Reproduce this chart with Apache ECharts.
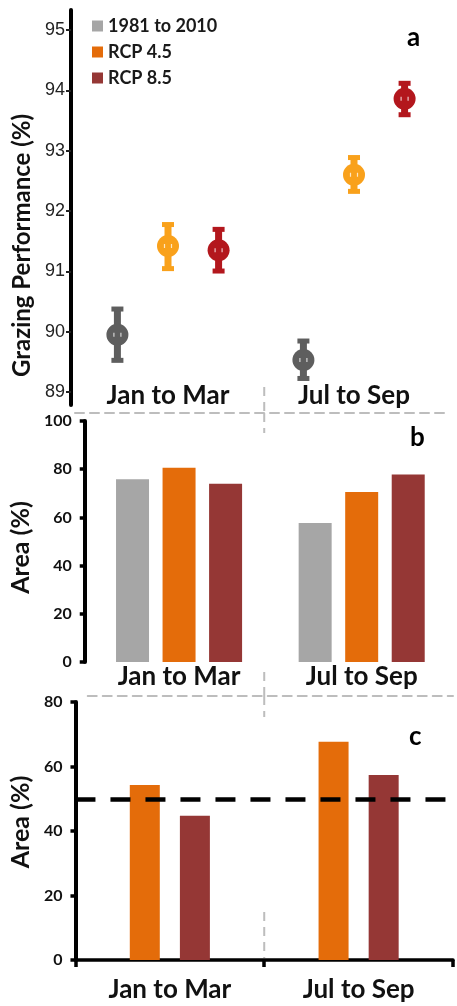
<!DOCTYPE html>
<html><head><meta charset="utf-8">
<script src="https://cdn.jsdelivr.net/npm/echarts@6/dist/echarts.min.js"></script>
<style>html,body{margin:0;padding:0;background:#fff}#c{width:457px;height:1006px}</style>
</head><body><div id="c"></div>
<script>
// ---------- data ----------
const categories = ['Jan to Mar', 'Jul to Sep'];
const seriesNames = ['1981 to 2010', 'RCP 4.5', 'RCP 8.5'];
// panel a: grazing performance (%) mean with error range
const perfMeanBase = [89.95, 89.53];
const perfLowBase  = [89.50, 89.20];
const perfHighBase = [90.40, 89.87];
const perfMean45 = [91.42, 92.60];
const perfLow45  = [91.02, 92.30];
const perfHigh45 = [91.80, 92.91];
const perfMean85 = [91.35, 93.86];
const perfLow85  = [90.98, 93.57];
const perfHigh85 = [91.72, 94.14];
const perfTicks = [89, 90, 91, 92, 93, 94, 95];
// panel b: area (%)
const areaBBase = [75.8, 57.7];
const areaB45   = [80.6, 70.5];
const areaB85   = [74.0, 77.8];
// panel c: area (%)
const areaC45 = [54.3, 67.7];
const areaC85 = [44.7, 57.4];
const threshold = 50;

// ---------- styles ----------
const FONT = 'Lato';
const pointColors = ['#5e5e5e', '#f9a11b', '#b3171d'];
const barColors = ['#a6a6a6', '#e46c0a', '#953735'];

function pack(m, lo, hi) { return m.map((v, i) => [i, v, lo[i], hi[i]]); }
const perfData = [pack(perfMeanBase, perfLowBase, perfHighBase), pack(perfMean45, perfLow45, perfHigh45), pack(perfMean85, perfLow85, perfHigh85)];

function makeRender(k, color) {
  return function (params, api) {
    const cat = api.value(0);
    const c = api.coord([cat, api.value(1)]);
    const lo = api.coord([cat, api.value(2)]);
    const hi = api.coord([cat, api.value(3)]);
    const band = api.size([1, 0])[0];
    const x = c[0] + k * band * 0.272;
    const st = { fill: color };
    return { type: 'group', children: [
      { type: 'rect', shape: { x: x - 3.5, y: hi[1], width: 7, height: lo[1] - hi[1] }, style: st },
      { type: 'rect', shape: { x: x - 6, y: hi[1] - 1, width: 12, height: 5 }, style: st },
      { type: 'rect', shape: { x: x - 6, y: lo[1] - 4, width: 12, height: 5 }, style: st },
      { type: 'circle', shape: { cx: x, cy: c[1], r: 11 }, style: st },
      { type: 'line', shape: { x1: x - 3.5, y1: c[1] - 2, x2: x - 3.5, y2: c[1] + 2 }, style: { stroke: 'rgba(255,255,255,0.75)', lineWidth: 1.2 } },
      { type: 'line', shape: { x1: x + 3.5, y1: c[1] - 2, x2: x + 3.5, y2: c[1] + 2 }, style: { stroke: 'rgba(255,255,255,0.75)', lineWidth: 1.2 } }
    ]};
  };
}

const catLabel = { fontFamily: FONT, fontWeight: 'bold', fontSize: 26, color: '#111' };
const axisName = { fontFamily: FONT, fontWeight: 'bold', fontSize: 24, color: '#111' };
const dashedGray = { color: '#bdbdbd', width: 2, type: [9, 6] };

const chart = echarts.init(document.getElementById('c'), null, { renderer: 'canvas' });
const option = {
  animation: false,
  backgroundColor: '#fff',
  title: [
    { text: 'a', left: 402, top: 20, textStyle: { fontFamily: FONT, fontWeight: 'bold', fontSize: 26, color: '#000' } },
    { text: 'b', left: 405, top: 420, textStyle: { fontFamily: FONT, fontWeight: 'bold', fontSize: 26, color: '#000' } },
    { text: 'c', left: 404, top: 719, textStyle: { fontFamily: FONT, fontWeight: 'bold', fontSize: 26, color: '#000' } }
  ],
  legend: {
    orient: 'vertical', left: 87, top: 12, itemWidth: 11, itemHeight: 11, itemGap: 8,
    selectedMode: false, icon: 'rect',
    textStyle: { fontFamily: FONT, fontWeight: 'bold', fontSize: 18, color: '#1a1a1a' },
    data: seriesNames.map((n, i) => ({ name: n, itemStyle: { color: barColors[i] } }))
  },
  grid: [
    { left: 75, right: 10, top: 10, bottom: 601 },
    { left: 75, right: 4, top: 421, bottom: 344 },
    { left: 73, right: 4, top: 702, bottom: 46 }
  ],
  xAxis: [
    { gridIndex: 0, type: 'category', data: categories, position: 'bottom', offset: 8,
      axisLine: { lineStyle: dashedGray }, axisTick: { show: false },
      axisLabel: { inside: true, margin: 4, ...catLabel } },
    { gridIndex: 1, type: 'category', data: categories, position: 'bottom',
      axisLine: { show: false }, axisTick: { show: false },
      axisLabel: { margin: 2, ...catLabel } },
    { gridIndex: 1, type: 'category', data: categories, position: 'bottom', offset: 34,
      axisLine: { lineStyle: dashedGray }, axisTick: { show: false }, axisLabel: { show: false } },
    { gridIndex: 2, type: 'category', data: categories, position: 'bottom',
      axisLine: { lineStyle: { color: '#000', width: 3.5 } },
      axisTick: { show: true, length: 7, lineStyle: { color: '#000', width: 3.5 } },
      axisLabel: { margin: 17, ...catLabel } }
  ],
  yAxis: [
    { gridIndex: 0, type: 'value', min: 88.785, max: 95.33, offset: 4,
      name: 'Grazing Performance (%)', nameLocation: 'middle', nameGap: 30,
      nameTextStyle: { ...axisName, padding: [0, 76, 0, 0] },
      axisLine: { show: true, lineStyle: { color: '#000', width: 4 } },
      axisTick: { show: true, length: 5, customValues: perfTicks, lineStyle: { color: '#222', width: 2 } },
      axisLabel: { customValues: perfTicks, margin: 6, fontFamily: 'Liberation Sans', fontSize: 18, color: '#222' },
      splitLine: { show: false } },
    { gridIndex: 1, type: 'value', min: 0, max: 100, interval: 20, offset: 3,
      name: 'Area (%)', nameLocation: 'middle', nameGap: 34,
      nameTextStyle: { ...axisName, fontSize: 25, padding: [0, 12, 0, 0] },
      axisLine: { show: true, lineStyle: { color: '#000', width: 4 } },
      axisTick: { show: true, length: 5, lineStyle: { color: '#000', width: 3.5 } },
      axisLabel: { margin: 13, fontFamily: FONT, fontWeight: 'bold', fontSize: 16, color: '#111' },
      splitLine: { show: false } },
    { gridIndex: 2, type: 'value', min: 0, max: 80, interval: 20,
      name: 'Area (%)', nameLocation: 'middle', nameGap: 36,
      nameTextStyle: { ...axisName, fontSize: 25, padding: [0, 0, 0, 18] },
      axisLine: { show: true, lineStyle: { color: '#000', width: 4 } },
      axisTick: { show: true, length: 5, lineStyle: { color: '#000', width: 3.5 } },
      axisLabel: { margin: 13, fontFamily: FONT, fontWeight: 'bold', fontSize: 16, color: '#111' },
      splitLine: { show: false } }
  ],
  series: [
    ...seriesNames.map((n, i) => ({
      name: n, type: 'custom', xAxisIndex: 0, yAxisIndex: 0,
      renderItem: makeRender(i - 1, pointColors[i]), data: perfData[i],
      itemStyle: { color: pointColors[i] }
    })),
    { name: seriesNames[0], type: 'bar', xAxisIndex: 1, yAxisIndex: 1, data: areaBBase, barWidth: 33, barGap: '41%', itemStyle: { color: barColors[0] } },
    { name: seriesNames[1], type: 'bar', xAxisIndex: 1, yAxisIndex: 1, data: areaB45, barWidth: 33, barGap: '41%', itemStyle: { color: barColors[1] } },
    { name: seriesNames[2], type: 'bar', xAxisIndex: 1, yAxisIndex: 1, data: areaB85, barWidth: 33, barGap: '41%', itemStyle: { color: barColors[2] } },
    { name: seriesNames[1], type: 'bar', xAxisIndex: 3, yAxisIndex: 2, data: areaC45, barWidth: 30, barGap: '67%', itemStyle: { color: barColors[1] },
      markLine: { silent: true, symbol: 'none', label: { show: false },
        lineStyle: { color: '#000', width: 4.5, type: [20, 15] }, data: [{ yAxis: threshold }] } },
    { name: seriesNames[2], type: 'bar', xAxisIndex: 3, yAxisIndex: 2, data: areaC85, barWidth: 30, barGap: '67%', itemStyle: { color: barColors[2] } }
  ]
};
chart.setOption(option);

// decorative vertical dividers between the two periods (position from the axis)
const midX = (chart.convertToPixel({ gridIndex: 2 }, [0, 0])[0] + chart.convertToPixel({ gridIndex: 2 }, [1, 0])[0]) / 2;
const segs = [[387, 413], [413, 433], [672, 696], [696, 717], [912, 958]];
chart.setOption({ graphic: segs.map(s => ({
  type: 'line', silent: true, z: 5,
  shape: { x1: midX, y1: s[0], x2: midX, y2: s[1] },
  style: { stroke: '#bdbdbd', lineWidth: 2, lineDash: [9, 6] }
})) });
</script></body></html>
